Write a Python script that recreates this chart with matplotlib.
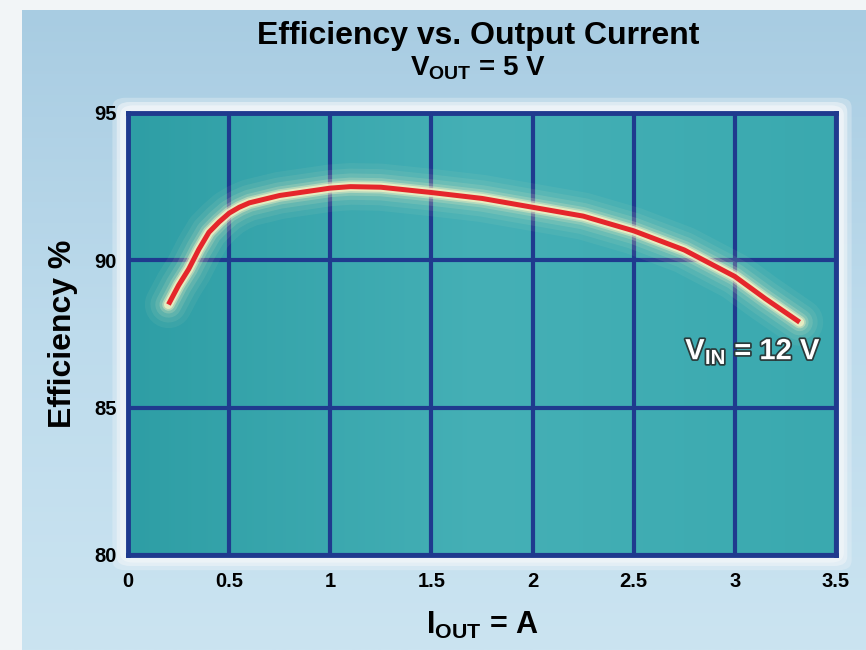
import numpy as np
import matplotlib
matplotlib.use("Agg")
import matplotlib.pyplot as plt
import matplotlib.patheffects as pe
from matplotlib.patches import FancyBboxPatch
from matplotlib.colors import LinearSegmentedColormap

# data
current = [0.2, 0.25, 0.3, 0.35, 0.4, 0.45, 0.5, 0.55, 0.6, 0.75, 0.9, 1.0,
           1.1, 1.25, 1.5, 1.75, 2.0, 2.25, 2.5, 2.75, 3.0, 3.15, 3.32]
efficiency = [88.5, 89.15, 89.7, 90.37, 90.95, 91.3, 91.6, 91.8, 91.95, 92.2,
              92.35, 92.45, 92.5, 92.48, 92.3, 92.1, 91.8, 91.5, 91.0, 90.35,
              89.45, 88.7, 87.9]
xticks = [0, 0.5, 1, 1.5, 2, 2.5, 3, 3.5]
xtick_labels = ["0", "0.5", "1", "1.5", "2", "2.5", "3", "3.5"]
yticks = [80, 85, 90, 95]

plt.rcParams["font.family"] = ["Liberation Sans", "DejaVu Sans"]
plt.rcParams["font.weight"] = "bold"
plt.rcParams["mathtext.fontset"] = "custom"
plt.rcParams["mathtext.rm"] = "Liberation Sans:bold"
plt.rcParams["mathtext.bf"] = "Liberation Sans:bold"

fig = plt.figure(figsize=(8.66, 6.5), dpi=100)
fig.patch.set_facecolor("#f2f5f7")

# light blue background panel with vertical gradient
bg = fig.add_axes([0.025, 0.0, 0.975, 0.985])
grad = np.linspace(0, 1, 256).reshape(-1, 1)
bgcmap = LinearSegmentedColormap.from_list("bg", ["#a8cce2", "#bddbec", "#cbe4f1"])
bg.imshow(grad, aspect="auto", cmap=bgcmap, extent=[0, 1, 0, 1], origin="upper")
bg.set_axis_off()

# whitish frame around the plot area
left, bottom, width, height = 0.1478, 0.1462, 0.8176, 0.68
for pad, a in [(0.018, 0.35), (0.013, 0.6), (0.009, 0.9)]:
    frame = FancyBboxPatch((left - pad, bottom - pad * 1.3), width + 2 * pad,
                           height + 2.6 * pad,
                           boxstyle="round,pad=0,rounding_size=0.015",
                           transform=fig.transFigure, facecolor="#eef4f8",
                           edgecolor="none", alpha=a, zorder=1)
    fig.patches.append(frame)

ax = fig.add_axes([left, bottom, width, height])
ax.set_zorder(2)
ax.set_facecolor("#3eaab0")

# soft shading of the teal panel
panel = LinearSegmentedColormap.from_list("panel", ["#2e9ea5", "#45b0b6", "#3aa9af"])
ax.imshow(np.linspace(0, 1, 256).reshape(1, -1), aspect="auto", cmap=panel,
          extent=[0, 3.5, 80, 95], zorder=0)

ax.set_xlim(0, 3.5)
ax.set_ylim(80, 95)
ax.set_xticks(xticks)
ax.set_xticklabels(xtick_labels)
ax.set_yticks(yticks)
ax.grid(True, color="#1f3a8e", linewidth=3)
ax.set_axisbelow(True)
for s in ax.spines.values():
    s.set_color("#1f3a8e")
    s.set_linewidth(3.5)
ax.tick_params(length=0, labelsize=14.5)
ax.tick_params(axis="x", pad=12)
ax.tick_params(axis="y", pad=8)

# glow + red curve
for lw, a in [(34, 0.06), (26, 0.08), (19, 0.12), (13, 0.2), (9, 0.4), (6.5, 0.7)]:
    ax.plot(current, efficiency, color="#fbf5c4", linewidth=lw, alpha=a,
            solid_capstyle="round", solid_joinstyle="round", zorder=3)
ax.plot(current, efficiency, color="#e5262b", linewidth=3.6,
        solid_capstyle="butt", solid_joinstyle="round", zorder=4)

ax.text(3.09, 86.9, r"V$_{\mathrm{IN}}$ = 12 V", color="white", fontsize=21,
        ha="center", va="center", zorder=5,
        path_effects=[pe.withStroke(linewidth=2.5, foreground="#2a3a3a")])

ax.set_ylabel("Efficiency %", fontsize=23, fontweight="bold", labelpad=12)
ax.set_xlabel(r"I$_{\mathrm{OUT}}$ = A", fontsize=22, fontweight="bold", labelpad=14)

fig.text(0.552, 0.945, "Efficiency vs. Output Current", ha="center", va="center",
         fontsize=23)
fig.text(0.552, 0.895, r"V$_{\mathrm{OUT}}$ = 5 V", ha="center", va="center",
         fontsize=20)

fig.savefig("out.png", dpi=100, facecolor=fig.get_facecolor())
